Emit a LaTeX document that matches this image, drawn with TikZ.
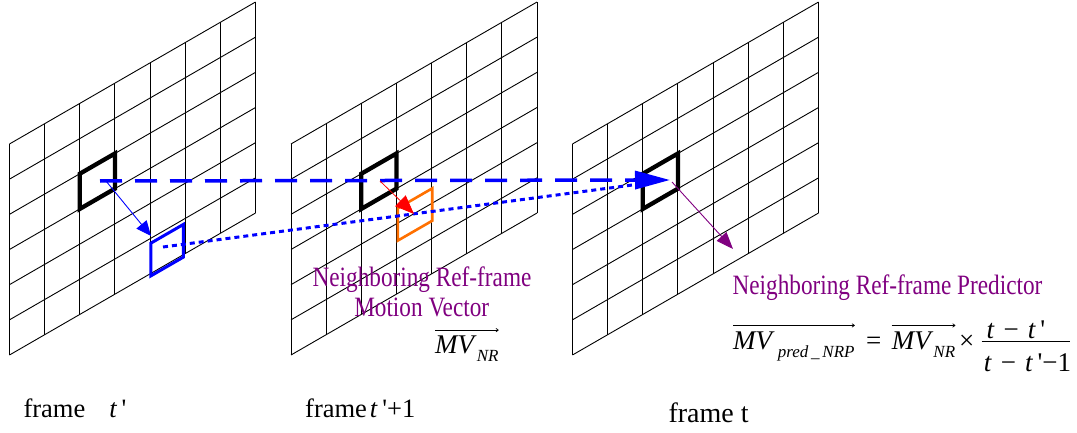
\documentclass[tikz,border=0pt]{standalone}
\usepackage{fontspec}
\setmainfont{Liberation Serif}
\usetikzlibrary{arrows.meta}
\definecolor{mvblue}{RGB}{0,0,255}
\definecolor{mvred}{RGB}{255,0,0}
\definecolor{mvorange}{RGB}{255,112,0}
\definecolor{mvpurple}{RGB}{128,0,128}
\newcommand{\subfnt}{\fontsize{17}{18}\selectfont}
\newcommand{\qs}{\textquotesingle}
\begin{document}
\begin{tikzpicture}[x=1pt,y=1pt,
  gridline/.style={line width=0.9pt,black},
  cellbox/.style={line width=4.3pt,black,line join=miter},
  bluebox/.style={line width=3pt,mvblue,line join=miter},
  orangebox/.style={line width=2.6pt,mvorange,line join=miter},
  dashconn/.style={line width=3.5pt,mvblue,dash pattern=on 22pt off 13pt,-{Triangle[length=35pt,width=18pt]}},
  dotconn/.style={line width=3pt,mvblue,dash pattern=on 5pt off 4pt},
  thinblue/.style={line width=0.9pt,mvblue,-{Triangle[length=15pt,width=13pt]}},
  thinred/.style={line width=0.8pt,mvred,-{Triangle[length=19pt,width=15pt]}},
  thinpurple/.style={line width=0.9pt,mvpurple,-{Triangle[length=17pt,width=13pt]}},
  purpletext/.style={text=mvpurple,font=\fontsize{28}{30}\selectfont,xscale=0.83,inner sep=0pt},
  mathtext/.style={font=\fontsize{27}{30}\selectfont,inner sep=0pt},
  labeltext/.style={font=\fontsize{26.5}{30}\selectfont,inner sep=0pt},
  overarrow/.style={line width=0.7pt,-{To[length=3pt,width=4pt]}},
  fracbar/.style={line width=1.2pt}
]
\useasboundingbox (0,0) rectangle (1077,432);

% frames
\foreach \ox in {9.5,291,572.5} {
  \begin{scope}[shift={(\ox,77)},x={(35.14pt,20.28pt)},y={(0pt,35.17pt)}]
    \foreach \c in {0,...,7} \draw[gridline] (\c,0) -- (\c,6);
    \foreach \r in {0,...,6} \draw[gridline] (0,\r) -- (7,\r);
    \draw[cellbox] (2,3) -- (3,3) -- (3,4) -- (2,4) -- cycle;
  \end{scope}
}
% blue box in frame t'
\begin{scope}[shift={(9.5,77)},x={(35.14pt,20.28pt)},y={(0pt,35.17pt)}]
  \draw[bluebox] (4.02,-0.07) -- (4.95,-0.07) -- (4.95,0.86) -- (4.02,0.86) -- cycle;
\end{scope}
% orange box in frame t'+1
\begin{scope}[shift={(291,77)},x={(35.14pt,20.28pt)},y={(0pt,35.17pt)}]
  \draw[orangebox] (3.04,1.5) -- (4.02,1.5) -- (4.02,2.42) -- (3.04,2.42) -- cycle;
\end{scope}

% connector end points
\coordinate (dashS) at (100,251);
\coordinate (dashE) at (670,252);
\coordinate (mvS) at (106,251);
\coordinate (mvE) at (151,196);
\coordinate (dotS) at (163,185);
\coordinate (dotE) at (640,248);
\coordinate (redS) at (380,251);
\coordinate (redE) at (414,218);
\coordinate (purS) at (672,250);
\coordinate (purE) at (733,183);

\draw[dotconn] (dotS) -- (dotE);
\draw[dashconn] (dashS) -- (dashE);
\draw[thinblue] (mvS) -- (mvE);
\draw[thinred] (redS) -- (redE);
\draw[thinpurple] (purS) -- (purE);

% labels
\node[purpletext,anchor=base] (nrmvA) at (422,145.3) {Neighboring Ref-frame};
\node[purpletext,anchor=base] (nrmvB) at (421.7,115.3) {Motion Vector};
\node[purpletext,anchor=base] (nrp) at (887.5,138) {Neighboring Ref-frame Predictor};

\node[mathtext,anchor=base west] (mvnr) at (435,79) {\textit{MV}\raisebox{-8.5pt}{\subfnt\textit{NR}}};
\draw[overarrow] ([yshift=5pt]mvnr.north west) -- ([yshift=5pt]mvnr.north east);

% formula
\node[mathtext,anchor=base west] (mvp) at (733,82.7) {\textit{MV}\hspace{3pt}\raisebox{-8pt}{\subfnt\textit{pred\,\_\,NRP}}};
\draw[overarrow] ([yshift=6pt]mvp.north west) -- ([yshift=6pt]mvp.north east);
\node[mathtext,anchor=base west] (eq) at (866,82.7) {=};
\node[mathtext,anchor=base west] (mvr) at (891.7,82.7) {\textit{MV}\raisebox{-8pt}{\subfnt\textit{NR}}};
\draw[overarrow] ([yshift=6pt]mvr.north west) -- ([yshift=6pt]mvr.north east);
\node[mathtext,anchor=base west] (tms) at (959,82.7) {×};
\node[mathtext,anchor=base] (num) at (1016,93.7) {\textit{t}\,\,−\,\,\textit{t}\,\qs};
\coordinate (barL) at (981.7,90.3);
\coordinate (barR) at (1070,90.3);
\draw[fracbar] (barL) -- (barR);
\node[mathtext,anchor=base] (den) at (1027.5,60.3) {\textit{t}\,\,−\,\,\textit{t}\,\qs−1};

% frame captions
\node[labeltext,anchor=base west] (fA) at (23.3,14.7) {frame\hspace{24pt}\textit{t}\,\qs};
\node[labeltext,anchor=base west] (fB) at (305,14.7) {frame\hspace{3pt}\textit{t}\,\qs+1};
\node[labeltext,anchor=base west,font=\fontsize{28}{30}\selectfont] (fC) at (668.3,9.7) {frame t};
\end{tikzpicture}
\end{document}
